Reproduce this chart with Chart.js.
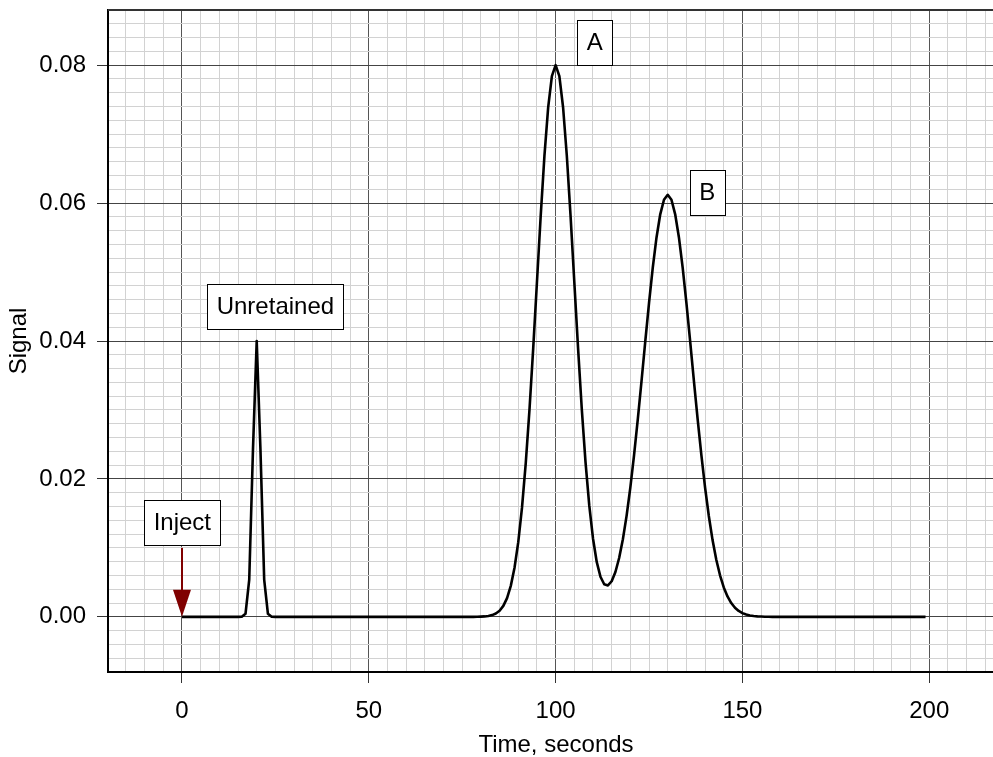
<!DOCTYPE html>
<html>
<head>
<meta charset="utf-8">
<script src="https://cdn.jsdelivr.net/npm/chart.js@4.4.1/dist/chart.umd.min.js"></script>
<style>
  html, body { margin: 0; padding: 0; background: #fff; }
  #wrap { width: 993px; height: 757px; position: relative; }
</style>
</head>
<body>
<div id="wrap"><canvas id="chromChart"></canvas></div>
<script>
const time = [
  0, 5, 10, 15, 16, 17, 18, 19, 20, 21, 22, 23, 24, 25, 30, 35, 40, 45, 50, 55, 60, 65, 70, 75, 78,
  79, 80, 81, 82, 83, 84, 85, 86, 87, 88, 89, 90, 91, 92, 93, 94, 95, 96, 97, 98, 99,
  100, 101, 102, 103, 104, 105, 106, 107, 108, 109, 110, 111, 112, 113, 114, 115, 116, 117, 118, 119,
  120, 121, 122, 123, 124, 125, 126, 127, 128, 129, 130, 131, 132, 133, 134, 135, 136, 137, 138, 139,
  140, 141, 142, 143, 144, 145, 146, 147, 148, 149, 150, 151, 152, 153, 154, 155, 156, 157, 158,
  160, 165, 170, 175, 180, 185, 190, 195, 199
];
const signal = [
  0, 0, 0, 0, 0.00001, 0.00044, 0.00541, 0.02426, 0.04, 0.02426, 0.00541, 0.00044, 0.00001, 0, 0, 0, 0, 0, 0, 0, 0, 0, 0, 0, 0,
  0.00001, 0.00003, 0.00006, 0.00012, 0.00025, 0.00048, 0.00089, 0.00159, 0.00272, 0.00449, 0.00711, 0.01083, 0.01583, 0.02224, 0.03002, 0.03894, 0.04852, 0.05809, 0.06682, 0.07385, 0.07842,
  0.08, 0.07842, 0.07386, 0.06683, 0.05811, 0.04856, 0.03901, 0.03014, 0.02244, 0.01616, 0.01137, 0.00796, 0.00581, 0.00472, 0.00455, 0.00516, 0.00650, 0.00853, 0.01125, 0.01468,
  0.01877, 0.02348, 0.02870, 0.03427, 0.03997, 0.04553, 0.05064, 0.05502, 0.05837, 0.06048, 0.0612, 0.06048, 0.05837, 0.05502, 0.05064, 0.04553, 0.03997, 0.03427, 0.02870, 0.02347,
  0.01874, 0.01462, 0.01113, 0.00828, 0.00602, 0.00427, 0.00296, 0.00200, 0.00132, 0.00085, 0.00054, 0.00033, 0.00020, 0.00012, 0.00007, 0.00004, 0.00002, 0.00001, 0,
  0, 0, 0, 0, 0, 0, 0, 0, 0
];
const xTickLabels = [0, 50, 100, 150, 200];
const yTickLabels = [0, 0.02, 0.04, 0.06, 0.08];

// Etiquetas de los picos
const noteText = ['Inject', 'Unretained', 'A', 'B'];
const notePos = [
  { x: 0.1, y: 0.0137 },
  { x: 25, y: 0.045 },
  { x: 110.5, y: 0.0833 },
  { x: 140.6, y: 0.0616 }
];
const injectAt = { x: 0, from: 0.01, to: 0 };

const FONT = '"Liberation Sans", Arial, Helvetica, sans-serif';
const FONT_SIZE = 24;
const OVERHANG = 11; // el área del gráfico sigue un poco más allá del borde derecho

function isMajor(v, step) {
  const r = v / step;
  return Math.abs(r - Math.round(r)) < 1e-6;
}

// Dibuja borde superior, flecha de inyección y cajas de texto
const annotate = {
  id: 'annotate',
  afterLayout(chart) {
    const x = chart.scales.x;
    x.right += OVERHANG;
    x.width += OVERHANG;
    chart.chartArea.right += OVERHANG;
    chart.chartArea.width += OVERHANG;
    x.configure();
  },
  beforeDatasetsDraw(chart) {
    const { ctx, chartArea } = chart;
    ctx.save();
    ctx.strokeStyle = '#333';
    ctx.lineWidth = 2;
    ctx.beginPath();
    ctx.moveTo(chartArea.left, chartArea.top);
    ctx.lineTo(chartArea.right, chartArea.top);
    ctx.stroke();
    ctx.restore();
  },
  afterDatasetsDraw(chart) {
    const { ctx, scales: { x, y } } = chart;
    ctx.save();

    // flecha
    const ax = x.getPixelForValue(injectAt.x);
    const ay0 = y.getPixelForValue(injectAt.from);
    const ay1 = y.getPixelForValue(injectAt.to);
    ctx.strokeStyle = '#800000';
    ctx.fillStyle = '#800000';
    ctx.lineWidth = 2;
    ctx.beginPath();
    ctx.moveTo(ax, ay0);
    ctx.lineTo(ax, ay1 - 20);
    ctx.stroke();
    ctx.beginPath();
    ctx.moveTo(ax, ay1);
    ctx.lineTo(ax - 9, ay1 - 27);
    ctx.lineTo(ax + 9, ay1 - 27);
    ctx.closePath();
    ctx.fill();

    // cajas
    ctx.font = FONT_SIZE + 'px ' + FONT;
    ctx.textAlign = 'center';
    ctx.textBaseline = 'middle';
    noteText.forEach((txt, i) => {
      const cx = x.getPixelForValue(notePos[i].x);
      const cy = y.getPixelForValue(notePos[i].y);
      const w = Math.round(ctx.measureText(txt).width + 19);
      const h = 45;
      const left = Math.round(cx - w / 2) + 0.5;
      const top = Math.round(cy - h / 2) + 0.5;
      ctx.fillStyle = '#fff';
      ctx.fillRect(left, top, w, h);
      ctx.strokeStyle = '#000';
      ctx.lineWidth = 1;
      ctx.strokeRect(left, top, w, h);
      ctx.fillStyle = '#000';
      ctx.fillText(txt, cx, cy + 1);
    });
    ctx.restore();
  }
};

Chart.defaults.font.family = FONT;
Chart.defaults.font.size = FONT_SIZE;
Chart.defaults.color = '#000';

const ctx = document.getElementById('chromChart').getContext('2d');
const chromChart = new Chart(ctx, {
  type: 'line',
  data: {
    datasets: [{
      label: 'Signal',
      data: time.map((t, i) => ({ x: t, y: signal[i] })),
      borderColor: '#000',
      borderWidth: 2.6,
      borderJoinStyle: 'round',
      pointRadius: 0,
      tension: 0,
      fill: false
    }]
  },
  options: {
    responsive: true,
    maintainAspectRatio: false,
    animation: false,
    layout: { padding: { top: 10, right: 0, bottom: 0, left: 0 } },
    plugins: {
      legend: { display: false },
      tooltip: { enabled: false }
    },
    scales: {
      x: {
        type: 'linear',
        min: -19.8,
        max: 220,
        afterFit: (scale) => {
          scale.height = 85;
          scale.paddingLeft = 0;
          scale.paddingRight = 0;
        },
        afterBuildTicks: (scale) => {
          const t = [];
          for (let i = -3; i <= 44; i++) t.push({ value: i * 5 });
          scale.ticks = t;
        },
        ticks: {
          autoSkip: false,
          maxRotation: 0,
          padding: 14,
          callback: (v) => xTickLabels.includes(v) ? String(v) : ''
        },
        grid: {
          lineWidth: 1,
          tickLength: 11,
          color: (c) => isMajor(c.tick.value, 50) ? '#555' : '#d2d2d2',
          tickColor: (c) => isMajor(c.tick.value, 50) ? '#333' : 'rgba(0,0,0,0)'
        },
        border: { display: true, color: '#000', width: 2 },
        title: {
          display: true,
          text: 'Time, seconds',
          font: { size: FONT_SIZE, lineHeight: 1 },
          padding: { top: 0, bottom: 0 }
        }
      },
      y: {
        type: 'linear',
        min: -0.008,
        max: 0.088,
        afterFit: (scale) => {
          scale.width = 108;
          scale.paddingTop = 0;
          scale.paddingBottom = 0;
        },
        afterBuildTicks: (scale) => {
          const t = [];
          for (let i = -4; i <= 44; i++) t.push({ value: i * 0.002 });
          scale.ticks = t;
        },
        ticks: {
          autoSkip: false,
          padding: 11,
          callback: (v) => {
            const hit = yTickLabels.find(l => Math.abs(l - v) < 1e-9);
            return hit === undefined ? '' : hit.toFixed(2);
          }
        },
        grid: {
          lineWidth: 1,
          tickLength: 11,
          color: (c) => isMajor(c.tick.value, 0.02) ? '#444' : '#d2d2d2',
          tickColor: (c) => isMajor(c.tick.value, 0.02) ? '#333' : 'rgba(0,0,0,0)'
        },
        border: { display: true, color: '#000', width: 2 },
        title: {
          display: true,
          text: 'Signal',
          font: { size: FONT_SIZE, lineHeight: 1 },
          padding: { top: 7, bottom: 0 }
        }
      }
    }
  },
  plugins: [annotate]
});
</script>
</body>
</html>
